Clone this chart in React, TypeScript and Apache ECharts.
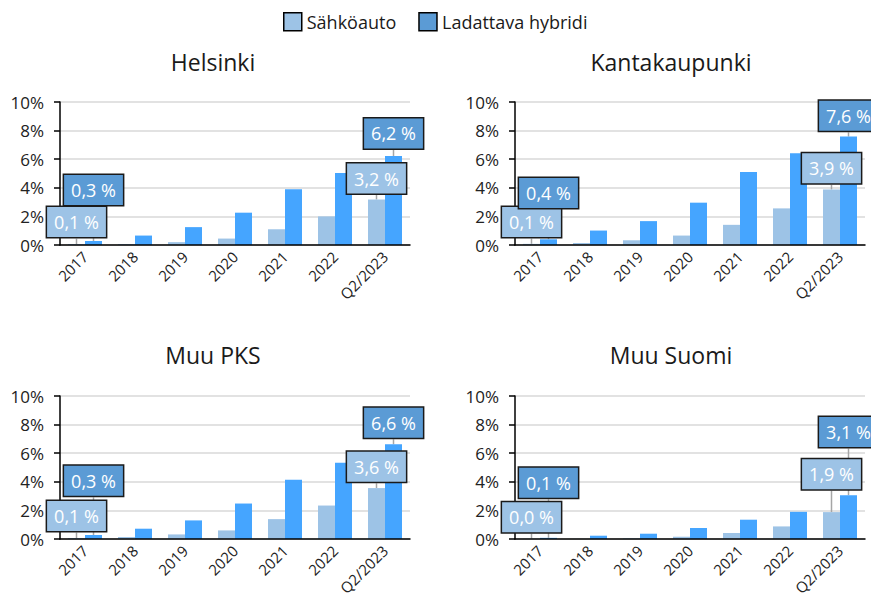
import React, { useEffect, useRef } from "react";
import * as echarts from "echarts";

const categories = ["2017", "2018", "2019", "2020", "2021", "2022", "Q2/2023"];
const panelNames = ["Helsinki", "Kantakaupunki", "Muu PKS", "Muu Suomi"];
const seriesNames = ["Sähköauto", "Ladattava hybridi"];
const yTicks = [0, 2, 4, 6, 8, 10];

const helsinkiEV = [0.07, 0.07, 0.2, 0.45, 1.1, 2.0, 3.18];
const helsinkiPHEV = [0.28, 0.66, 1.25, 2.26, 3.9, 5.03, 6.22];
const kantaEV = [0.08, 0.14, 0.33, 0.66, 1.41, 2.56, 3.88];
const kantaPHEV = [0.4, 1.01, 1.67, 2.96, 5.1, 6.42, 7.58];
const pksEV = [0.07, 0.14, 0.32, 0.6, 1.39, 2.34, 3.56];
const pksPHEV = [0.28, 0.72, 1.3, 2.48, 4.15, 5.34, 6.62];
const suomiEV = [0.02, 0.01, 0.05, 0.16, 0.42, 0.88, 1.88];
const suomiPHEV = [0.08, 0.23, 0.37, 0.77, 1.35, 1.9, 3.06];

const evData = [helsinkiEV, kantaEV, pksEV, suomiEV];
const phevData = [helsinkiPHEV, kantaPHEV, pksPHEV, suomiPHEV];

// layout (styling) constants
const FONT = "'Open Sans', sans-serif";
const GRIDS = [
  { left: 60, top: 102 },
  { left: 515, top: 102 },
  { left: 60, top: 396 },
  { left: 515, top: 396 },
];
const GRID_W = 350;
const GRID_H = 143;
const PX_PER_UNIT = GRID_H / 10;
const TITLE_POS = [
  [213, 62],
  [671, 62],
  [213, 355],
  [671, 355],
];
// label centre heights (in axis units above baseline) for [first, last] labelled bars
const LABEL_H = {
  ev: [
    [1.6, 4.65],
    [1.6, 5.36],
    [1.61, 5.05],
    [1.52, 4.53],
  ],
  phev: [
    [3.85, 7.8],
    [3.64, 9.03],
    [4.07, 8.13],
    [3.93, 7.48],
  ],
};
const LIGHT = "#9DC3E6";
const BAR_DARK = "#45A5FF";
const LABEL_DARK = "#5B9BD5";

function fmt(v: number) {
  return v.toFixed(1).replace(".", ",") + " %";
}

export default function App() {
  const ref = useRef<HTMLDivElement>(null);
  useEffect(() => {
    if (!ref.current) return;
    const chart = echarts.init(ref.current, null, { renderer: "svg" });

    const grid = GRIDS.map((g) => ({
      left: g.left,
      top: g.top,
      width: GRID_W,
      height: GRID_H,
      containLabel: false,
    }));

    const xAxis = GRIDS.map((_, i) => ({
      type: "category",
      gridIndex: i,
      data: categories,
      axisLine: { show: true, lineStyle: { color: "#000", width: 1.5 } },
      axisTick: { show: false },
      axisLabel: {
        rotate: 45,
        fontSize: 15,
        color: "#222",
        fontFamily: FONT,
        margin: 9,
        interval: 0,
      },
      z: 5,
    }));

    const yAxis = GRIDS.map((_, i) => ({
      type: "value",
      gridIndex: i,
      min: yTicks[0],
      max: yTicks[yTicks.length - 1],
      interval: yTicks[1] - yTicks[0],
      axisLine: { show: true, lineStyle: { color: "#000", width: 1.5 } },
      axisTick: { show: true, length: 6, lineStyle: { color: "#000", width: 1.5 } },
      axisLabel: {
        formatter: "{value}%",
        fontSize: 17,
        color: "#222",
        fontFamily: FONT,
        margin: 16,
      },
      splitLine: { show: true, lineStyle: { color: "#d9d9d9", width: 1.5 } },
    }));

    const makeSeries = (panel: number, kind: "ev" | "phev") => {
      const values = kind === "ev" ? evData[panel] : phevData[panel];
      const bg = kind === "ev" ? LIGHT : LABEL_DARK;
      const last = values.length - 1;
      return {
        type: "bar",
        name: kind === "ev" ? seriesNames[0] : seriesNames[1],
        xAxisIndex: panel,
        yAxisIndex: panel,
        barGap: "0%",
        barCategoryGap: "32%",
        itemStyle: { color: kind === "ev" ? LIGHT : BAR_DARK },
        data: values.map((v, idx) => ({
          value: v,
          label: { show: idx === 0 || idx === last },
        })),
        label: {
          show: false,
          position: "top",
          formatter: (p: any) => fmt(p.value),
          color: "#fff",
          fontSize: 18,
          fontFamily: FONT,
          backgroundColor: bg,
          borderColor: "#1a1a1a",
          borderWidth: 1.5,
          padding: [4, 7, 4, 7],
          lineHeight: 22,
        },
        labelLine: {
          show: true,
          lineStyle: { color: "#a6a6a6", width: 1.5 },
        },
        labelLayout: (p: any) => {
          const h = LABEL_H[kind][panel][p.dataIndex === 0 ? 0 : 1];
          const baseY = p.rect.y + p.rect.height;
          return {
            x: p.rect.x + p.rect.width / 2,
            y: baseY - h * PX_PER_UNIT,
            align: "center",
            verticalAlign: "middle",
          };
        },
      };
    };

    const series: any[] = [];
    for (let i = 0; i < 4; i++) {
      series.push(makeSeries(i, "ev"));
      series.push(makeSeries(i, "phev"));
    }

    const graphic = panelNames.map((name, i) => ({
      type: "text",
      x: TITLE_POS[i][0],
      y: TITLE_POS[i][1],
      style: {
        text: name,
        fill: "#1a1a1a",
        font: `23px ${FONT}`,
        textAlign: "center",
        textVerticalAlign: "middle",
      },
    }));

    chart.setOption({
      animation: false,
      backgroundColor: "#fff",
      legend: {
        left: 278,
        top: 7,
        itemWidth: 18,
        itemHeight: 18,
        itemGap: 22,
        icon: "rect",
        textStyle: { fontSize: 18, color: "#1a1a1a", fontFamily: FONT },
        data: [
          { name: seriesNames[0], itemStyle: { color: LIGHT, borderColor: "#000", borderWidth: 1.5 } },
          { name: seriesNames[1], itemStyle: { color: LABEL_DARK, borderColor: "#000", borderWidth: 1.5 } },
        ],
      },
      grid,
      xAxis,
      yAxis,
      series,
      graphic,
    });
    return () => chart.dispose();
  }, []);
  return <div ref={ref} style={{ width: 879, height: 600, marginLeft: -8, marginTop: -8 }} />;
}
